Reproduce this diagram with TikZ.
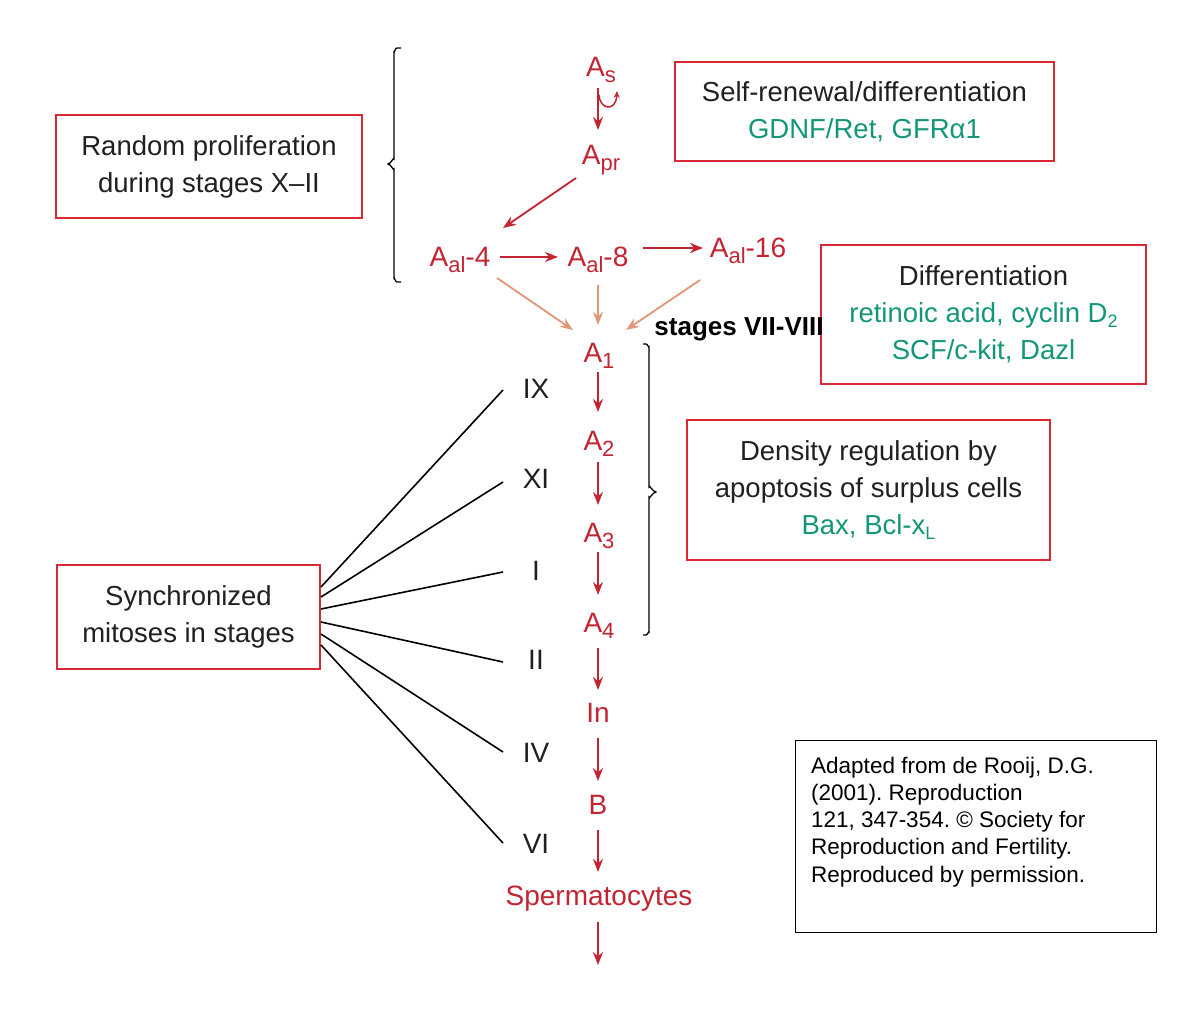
\documentclass[tikz,border=0pt]{standalone}
\usepackage{fontspec}
\setmainfont{Liberation Sans}
\usetikzlibrary{arrows.meta,calc}
\definecolor{cred}{RGB}{196,36,50}
\definecolor{bred}{RGB}{218,40,52}
\definecolor{salmon}{RGB}{226,150,120}
\definecolor{tl}{RGB}{20,150,122}
\definecolor{ink}{RGB}{32,32,32}
\newcommand\lw[1]{\raisebox{-6pt}{\fontsize{22}{22}\selectfont #1}}
\newcommand\sw[1]{\raisebox{-5pt}{\fontsize{18}{18}\selectfont #1}}
\frenchspacing
\tikzset{
  cell/.style={font=\fontsize{28}{37}\selectfont, text=cred, inner sep=0pt, anchor=base},
  rom/.style={font=\fontsize{28}{37}\selectfont, text=ink, inner sep=0pt, anchor=base},
  rbox/.style={draw=bred, line width=2pt, align=center, inner sep=0pt, font=\fontsize{27.5}{37}\selectfont, text=ink},
  ra/.style={draw=cred, line width=1.8pt, -{Stealth[length=13pt,width=10pt]}},
  sa/.style={draw=salmon, line width=1.8pt, -{Stealth[length=13pt,width=10pt]}},
  syn/.style={draw=black, line width=1.6pt},
  brace/.style={draw=black, line width=1.3pt},
}
\begin{document}
\begin{tikzpicture}[x=1pt,y=-1pt]
\fill[white] (0,0) rectangle (1200,1019);
\useasboundingbox (0,0) rectangle (1200,1019);

% boxes
\node[rbox, minimum width=306, minimum height=103] (rand) at (209,166.5) {Random proliferation\\during stages X–II};
\node[rbox, minimum width=379, minimum height=99] (self) at (864.5,111.5) {Self-renewal/differentiation\\\textcolor{tl}{GDNF/Ret, GFRα1}};
\node[rbox, minimum width=325, minimum height=139] (diff) at (983.5,314.5) {Differentiation\\\textcolor{tl}{retinoic acid, cyclin D\sw{2}}\\\textcolor{tl}{SCF/c-kit, Dazl}};
\node[rbox, minimum width=363, minimum height=140] (dens) at (868.5,490) {Density regulation by\\apoptosis of surplus cells\\\textcolor{tl}{Bax, Bcl-x\sw{L}}};
\node[rbox, minimum width=263, minimum height=104] (sync) at (188.5,617) {Synchronized\\mitoses in stages};

% citation
\node[draw=black, line width=1pt, minimum width=361, minimum height=192, anchor=north west, inner sep=0pt] (cite) at (795,740) {};
\node[anchor=north west, align=left, inner sep=0pt, font=\fontsize{22.5}{27.3}\selectfont, text=black] (citetxt) at ($(cite.north west)+(16,16.5)$)
 {Adapted from de Rooij, D.G.\\(2001). Reproduction\\121, 347-354. © Society for\\Reproduction and Fertility.\\Reproduced by permission.};

% cells
\node[cell] (as) at (601,77) {A\lw{s}};
\node[cell] (apr) at (601,165) {A\lw{pr}};
\node[cell] (al4) at (460,266) {A\lw{al}-4};
\node[cell] (al8) at (598,266) {A\lw{al}-8};
\node[cell] (al16) at (748,258) {A\lw{al}-16};
\node[cell] (a1) at (599,362) {A\lw{1}};
\node[cell] (a2) at (599,450) {A\lw{2}};
\node[cell] (a3) at (599,542) {A\lw{3}};
\node[cell] (a4) at (599,632) {A\lw{4}};
\node[cell] (in) at (598,722) {In};
\node[cell] (b) at (598,814) {B};
\node[cell] (sp) at (599,905) {Spermatocytes};
\coordinate (endp) at (598,965);

\node[anchor=base, inner sep=0pt, font=\bfseries\fontsize{26}{30}\selectfont, text=black] (vii) at (739,335) {stages VII-VIII};

% roman numerals
\node[rom] (ix) at (536,398) {IX};
\node[rom] (xi) at (536,488) {XI};
\node[rom] (i) at (536,580) {I};
\node[rom] (ii) at (536,669) {II};
\node[rom] (iv) at (536,762) {IV};
\node[rom] (vi) at (536,853) {VI};

% red arrows
\draw[ra] ($(as.base)+(-3,11)$) -- ($(apr.base)+(-3,-35)$);
\draw[draw=cred, line width=1.5pt, -{Stealth[length=7pt,width=6pt]}] ($(as.base)+(-2,18)$) .. controls ($(as.base)+(-1,33)$) and ($(as.base)+(15,35)$) .. ($(as.base)+(16,14)$);
\draw[ra] ($(apr.base)+(-25,13)$) -- ($(al4.base)+(43,-38)$);
\draw[ra] ($(al4.base)+(40,-9)$) -- ($(al8.base)+(-40,-9)$);
\draw[ra] ($(al8.base)+(45,-18)$) -- ($(al16.base)+(-45,-10)$);
\draw[sa] ($(al4.base)+(37,12)$) -- ($(a1.base)+(-26,-32)$);
\draw[sa] ($(al8.base)+(0,19)$) -- ($(a1.base)+(-1,-37)$);
\draw[sa] ($(al16.base)+(-48,22)$) -- ($(a1.base)+(27,-32)$);
\draw[ra] ($(a1.base)+(-1,10)$) -- ($(a2.base)+(-1,-38)$);
\draw[ra] ($(a2.base)+(-1,12)$) -- ($(a3.base)+(-1,-37)$);
\draw[ra] ($(a3.base)+(-1,10)$) -- ($(a4.base)+(-1,-37)$);
\draw[ra] ($(a4.base)+(-1,16)$) -- ($(in.base)+(0,-32)$);
\draw[ra] ($(in.base)+(0,16)$) -- ($(b.base)+(0,-33)$);
\draw[ra] ($(b.base)+(0,16)$) -- ($(sp.base)+(-1,-33)$);
\draw[ra] ($(sp.base)+(-1,17)$) -- (endp);

% synchronized lines
\draw[syn] ($(sync.north east)+(0,23)$) -- ($(ix.base)+(-33,-8)$);
\draw[syn] ($(sync.north east)+(0,33)$) -- ($(xi.base)+(-33,-6)$);
\draw[syn] ($(sync.north east)+(0,45)$) -- ($(i.base)+(-33,-8)$);
\draw[syn] ($(sync.north east)+(0,58)$) -- ($(ii.base)+(-33,-7)$);
\draw[syn] ($(sync.north east)+(0,70)$) -- ($(iv.base)+(-33,-10)$);
\draw[syn] ($(sync.north east)+(0,81)$) -- ($(vi.base)+(-33,-10)$);

% braces
\draw[brace] (401,48) -- (397,48) to[out=180,in=270] (394,52) -- (394,159) to[out=90,in=0] (388,164) to[out=0,in=270] (394,169) -- (394,278) to[out=90,in=180] (397,282) -- (401,282);
\draw[brace] (643,344) -- (646,344) to[out=0,in=270] (649,347) -- (649,487) to[out=90,in=180] (656,492) to[out=180,in=270] (649,497) -- (649,632) to[out=90,in=0] (646,635) -- (643,635);
\end{tikzpicture}
\end{document}
